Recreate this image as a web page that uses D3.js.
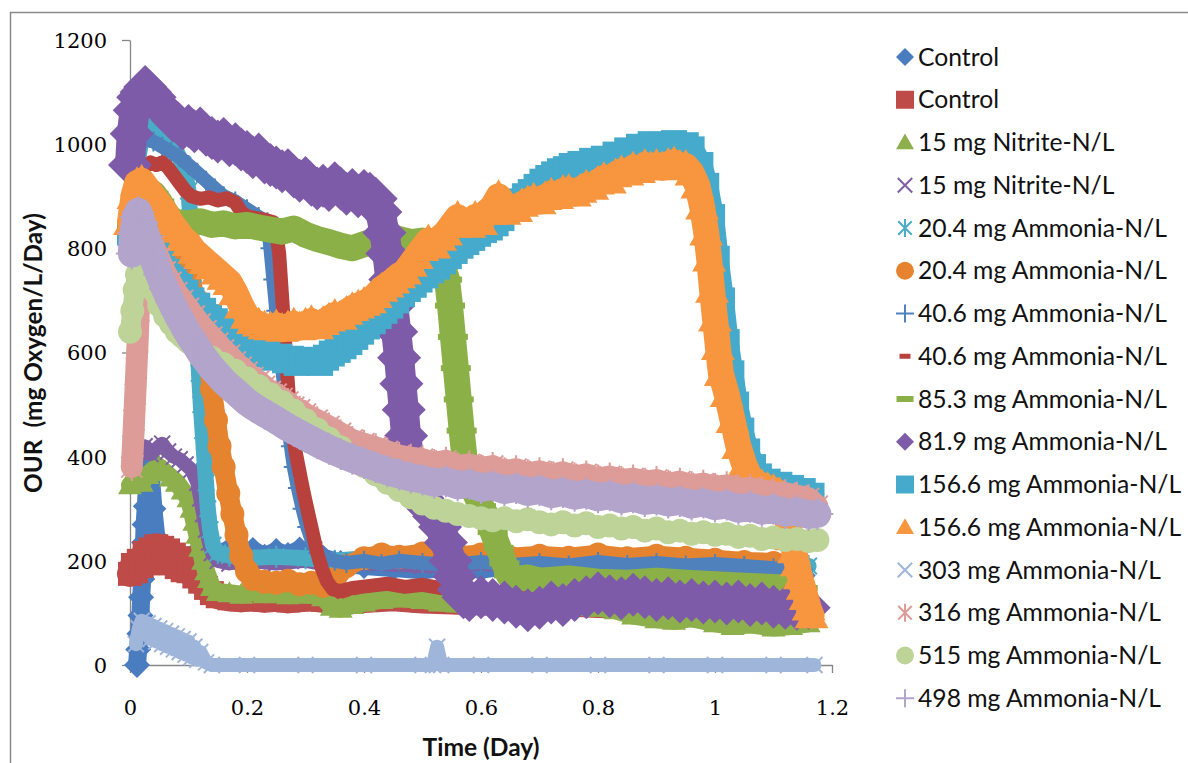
<!DOCTYPE html>
<html>
<head>
<meta charset="utf-8">
<script src="https://cdn.jsdelivr.net/npm/d3@7"></script>
<style>
  body { margin: 0; background: #fff; }
  svg { display: block; }
</style>
</head>
<body>
<svg id="chart" width="1188" height="763"></svg>
<script>
// ---- axis ticks ----
const xTicks = [0, 0.2, 0.4, 0.6, 0.8, 1, 1.2];
const xTickLabels = ["0", "0.2", "0.4", "0.6", "0.8", "1", "1.2"];
const yTicks = [0, 200, 400, 600, 800, 1000, 1200];
const yTickLabels = ["0", "200", "400", "600", "800", "1000", "1200"];

// ---- legend labels (one per series, in drawing order) ----
const seriesNames = [
  "Control", "Control",
  "15 mg Nitrite-N/L", "15 mg Nitrite-N/L",
  "20.4 mg Ammonia-N/L", "20.4 mg Ammonia-N/L",
  "40.6 mg Ammonia-N/L", "40.6 mg Ammonia-N/L",
  "85.3 mg Ammonia-N/L", "81.9 mg Ammonia-N/L",
  "156.6 mg Ammonia-N/L", "156.6 mg Ammonia-N/L",
  "303 mg Ammonia-N/L", "316 mg Ammonia-N/L",
  "515 mg Ammonia-N/L", "498 mg Ammonia-N/L"
];

// ---- OUR readings: [time (day), OUR (mg O2/L/day)] ----
const control1 = [[0.012,0],[0.014,30],[0.016,60],[0.018,95],[0.019,130],[0.021,165],[0.022,200],[0.024,235],[0.025,270],[0.027,305],[0.029,340],[0.031,370],[0.033,395],[0.036,360],[0.04,300],[0.045,245],[0.05,218],[0.07,212],[0.09,208],[0.11,212],[0.13,216],[0.15,214],[0.17,222],[0.19,210],[0.21,221],[0.23,208],[0.25,219],[0.27,211],[0.29,222],[0.31,213],[0.33,206],[0.36,196],[0.4,190],[0.45,186],[0.5,182],[0.55,188],[0.6,183],[0.65,190],[0.7,182],[0.75,188],[0.8,185],[0.85,180],[0.9,186],[0.95,182],[1.0,180],[1.05,178],[1.1,175],[1.15,172]];

const control2 = [[0.0,175],[0.005,192],[0.01,180],[0.015,200],[0.02,190],[0.025,215],[0.03,195],[0.035,222],[0.04,200],[0.045,228],[0.05,205],[0.055,225],[0.06,200],[0.065,220],[0.07,195],[0.075,212],[0.08,188],[0.085,205],[0.09,182],[0.1,180],[0.11,170],[0.12,160],[0.13,148],[0.14,138],[0.15,132],[0.17,128],[0.19,126],[0.21,128],[0.23,125],[0.25,127],[0.27,124],[0.29,126],[0.31,128],[0.33,125],[0.35,120],[0.4,125],[0.45,128],[0.5,124],[0.55,122],[0.6,120],[0.65,118],[0.7,115],[0.75,118],[0.8,115],[0.9,112],[1.0,110],[1.1,108],[1.15,105]];

const nitrite15a = [[0.0,345],[0.01,360],[0.02,350],[0.03,365],[0.04,375],[0.05,380],[0.06,370],[0.07,360],[0.08,350],[0.09,335],[0.1,320],[0.105,300],[0.11,275],[0.115,250],[0.12,225],[0.125,200],[0.13,180],[0.135,165],[0.14,150],[0.15,140],[0.17,138],[0.19,135],[0.21,140],[0.23,136],[0.25,138],[0.27,134],[0.29,137],[0.31,135],[0.33,130],[0.345,112],[0.36,108],[0.38,115],[0.4,120],[0.43,125],[0.46,128],[0.5,125],[0.53,120],[0.56,118],[0.6,115],[0.63,112],[0.66,115],[0.7,110],[0.73,108],[0.76,112],[0.8,110],[0.83,105],[0.86,95],[0.9,88],[0.93,85],[0.96,90],[1.0,80],[1.03,75],[1.06,78],[1.1,72],[1.13,75],[1.16,80]];

const nitrite15b = [[0.005,390],[0.015,410],[0.025,420],[0.035,405],[0.045,415],[0.055,425],[0.065,410],[0.075,400],[0.085,395],[0.095,385],[0.105,375],[0.115,350],[0.12,320],[0.125,290],[0.13,260],[0.135,235],[0.14,215],[0.15,200],[0.17,195],[0.2,200],[0.25,195],[0.3,200],[0.35,190],[0.4,195],[0.5,190],[0.6,195],[0.7,190],[0.8,195],[0.9,190],[1.0,185],[1.1,180],[1.15,178]];

const ammonia20a = [[0.005,880],[0.012,960],[0.02,1010],[0.03,1040],[0.04,1030],[0.05,1045],[0.06,1020],[0.07,1000],[0.08,985],[0.09,960],[0.095,940],[0.1,910],[0.103,860],[0.106,800],[0.109,740],[0.112,680],[0.115,620],[0.118,560],[0.121,500],[0.124,450],[0.127,400],[0.13,350],[0.133,300],[0.137,260],[0.142,230],[0.15,215],[0.17,210],[0.2,205],[0.25,208],[0.3,205],[0.35,200],[0.4,205],[0.5,200],[0.6,205],[0.7,200],[0.8,205],[0.9,200],[1.0,198],[1.1,195],[1.16,190]];

const ammonia20b = [[0.005,900],[0.015,890],[0.025,875],[0.04,855],[0.055,830],[0.07,800],[0.085,770],[0.1,740],[0.115,700],[0.125,650],[0.133,590],[0.14,530],[0.147,470],[0.153,420],[0.16,380],[0.168,330],[0.175,290],[0.182,250],[0.19,210],[0.2,180],[0.21,165],[0.23,160],[0.25,158],[0.27,162],[0.29,155],[0.31,158],[0.33,152],[0.35,165],[0.37,190],[0.4,205],[0.43,212],[0.46,208],[0.5,214],[0.55,208],[0.6,212],[0.65,206],[0.7,210],[0.75,206],[0.8,212],[0.85,205],[0.9,210],[0.95,206],[1.0,202],[1.05,198],[1.1,196],[1.13,192]];

const ammonia40a = [[0.01,990],[0.025,1010],[0.04,1005],[0.055,995],[0.07,985],[0.085,975],[0.1,960],[0.115,945],[0.13,930],[0.145,915],[0.16,900],[0.18,890],[0.2,875],[0.22,860],[0.235,850],[0.24,800],[0.245,740],[0.25,680],[0.255,620],[0.26,570],[0.265,520],[0.27,470],[0.275,420],[0.28,380],[0.287,340],[0.295,300],[0.303,265],[0.312,235],[0.322,215],[0.335,205],[0.35,200],[0.37,196],[0.4,200],[0.43,194],[0.46,200],[0.5,196],[0.55,192],[0.6,198],[0.65,192],[0.7,196],[0.75,191],[0.8,198],[0.85,192],[0.9,196],[0.95,191],[1.0,194],[1.05,190],[1.1,186],[1.15,184]];

const ammonia40b = [[0.005,900],[0.015,940],[0.025,955],[0.035,965],[0.045,960],[0.055,965],[0.065,955],[0.075,940],[0.085,925],[0.095,910],[0.105,900],[0.12,895],[0.135,898],[0.15,892],[0.165,896],[0.18,888],[0.19,870],[0.2,862],[0.215,858],[0.23,855],[0.245,850],[0.25,830],[0.255,790],[0.258,740],[0.261,690],[0.264,640],[0.267,590],[0.27,540],[0.273,490],[0.277,450],[0.283,410],[0.29,370],[0.297,330],[0.305,290],[0.313,250],[0.32,215],[0.328,185],[0.337,160],[0.347,145],[0.36,142],[0.38,148],[0.41,152],[0.44,156],[0.47,150],[0.5,154],[0.53,148],[0.56,145],[0.6,142],[0.65,138],[0.7,120],[0.715,98],[0.73,102],[0.75,130],[0.8,135],[0.85,130],[0.9,128],[0.95,125],[1.0,122],[1.05,120],[1.1,118],[1.15,115]];

const ammonia85 = [[0.04,905],[0.05,890],[0.06,870],[0.07,855],[0.08,850],[0.1,848],[0.12,852],[0.14,845],[0.16,848],[0.18,842],[0.2,845],[0.22,840],[0.24,836],[0.26,832],[0.28,838],[0.3,826],[0.32,818],[0.34,812],[0.36,805],[0.38,800],[0.4,808],[0.42,815],[0.44,812],[0.46,818],[0.48,812],[0.5,815],[0.51,812],[0.52,800],[0.528,785],[0.535,765],[0.542,740],[0.547,690],[0.552,630],[0.557,570],[0.562,510],[0.567,450],[0.572,395],[0.58,360],[0.59,330],[0.6,305],[0.61,285],[0.62,255],[0.63,225],[0.64,195],[0.648,172],[0.66,165],[0.68,168],[0.7,162],[0.75,166],[0.8,160],[0.85,158],[0.9,162],[0.95,158],[1.0,155],[1.05,152],[1.1,150],[1.15,148]];

const ammonia82 = [[0.0,960],[0.003,1020],[0.008,1065],[0.014,1090],[0.02,1100],[0.026,1110],[0.034,1100],[0.042,1090],[0.05,1075],[0.058,1065],[0.066,1055],[0.074,1045],[0.082,1040],[0.09,1030],[0.1,1035],[0.11,1025],[0.12,1030],[0.13,1018],[0.14,1012],[0.15,1005],[0.16,1010],[0.17,998],[0.18,1000],[0.19,990],[0.2,985],[0.21,975],[0.22,980],[0.23,965],[0.24,960],[0.25,955],[0.26,948],[0.27,950],[0.28,938],[0.29,930],[0.3,935],[0.31,922],[0.32,915],[0.33,920],[0.34,912],[0.35,925],[0.36,915],[0.37,905],[0.38,912],[0.39,900],[0.4,910],[0.41,905],[0.42,895],[0.428,870],[0.435,830],[0.44,790],[0.445,740],[0.45,690],[0.455,640],[0.46,590],[0.464,540],[0.468,490],[0.472,440],[0.477,400],[0.483,370],[0.49,345],[0.5,320],[0.51,300],[0.52,285],[0.53,265],[0.54,235],[0.548,200],[0.555,170],[0.562,145],[0.57,130],[0.58,125],[0.6,130],[0.62,125],[0.64,120],[0.66,112],[0.68,105],[0.7,110],[0.72,120],[0.74,115],[0.76,125],[0.78,130],[0.8,138],[0.82,132],[0.84,128],[0.86,135],[0.88,130],[0.9,125],[0.92,128],[0.94,122],[0.96,125],[0.98,120],[1.0,122],[1.02,118],[1.04,122],[1.06,115],[1.08,118],[1.1,112],[1.12,110],[1.14,108],[1.16,110]];

const ammonia156a = [[0.0,830],[0.008,860],[0.016,850],[0.025,830],[0.035,810],[0.045,790],[0.055,770],[0.065,755],[0.075,740],[0.085,728],[0.095,715],[0.105,700],[0.115,690],[0.125,680],[0.135,668],[0.145,660],[0.155,650],[0.165,640],[0.175,632],[0.185,625],[0.195,615],[0.205,610],[0.215,605],[0.225,600],[0.235,596],[0.245,590],[0.255,592],[0.265,585],[0.275,588],[0.285,580],[0.295,585],[0.305,582],[0.315,586],[0.325,580],[0.335,590],[0.345,598],[0.355,605],[0.365,612],[0.375,620],[0.385,630],[0.395,640],[0.405,650],[0.415,660],[0.425,670],[0.435,680],[0.445,690],[0.455,700],[0.465,712],[0.475,722],[0.485,730],[0.495,740],[0.505,748],[0.515,758],[0.525,765],[0.535,775],[0.545,785],[0.555,795],[0.565,805],[0.575,812],[0.585,820],[0.595,828],[0.605,835],[0.615,840],[0.625,848],[0.635,858],[0.645,880],[0.655,885],[0.665,890],[0.675,900],[0.685,908],[0.695,918],[0.705,928],[0.715,935],[0.725,942],[0.735,948],[0.745,952],[0.755,958],[0.77,962],[0.79,968],[0.81,972],[0.83,980],[0.85,988],[0.87,995],[0.89,1000],[0.91,998],[0.93,1002],[0.95,998],[0.96,990],[0.975,960],[0.985,920],[0.995,860],[1.003,780],[1.012,700],[1.02,620],[1.028,560],[1.036,500],[1.045,450],[1.055,410],[1.065,380],[1.075,362],[1.09,352],[1.11,346],[1.13,340],[1.15,334],[1.165,325]];

const ammonia156b = [[0.0,850],[0.006,900],[0.012,925],[0.02,930],[0.03,915],[0.04,900],[0.05,885],[0.06,870],[0.07,850],[0.08,835],[0.09,820],[0.1,810],[0.11,795],[0.12,785],[0.13,775],[0.14,765],[0.15,755],[0.16,745],[0.17,735],[0.18,715],[0.19,690],[0.2,670],[0.21,660],[0.22,655],[0.23,650],[0.24,648],[0.25,652],[0.26,645],[0.27,650],[0.28,655],[0.29,648],[0.3,655],[0.31,660],[0.32,650],[0.33,658],[0.34,665],[0.35,672],[0.36,668],[0.37,678],[0.38,685],[0.39,690],[0.4,695],[0.41,700],[0.42,710],[0.43,722],[0.44,730],[0.45,738],[0.46,748],[0.47,755],[0.48,770],[0.49,785],[0.5,800],[0.51,815],[0.52,805],[0.53,820],[0.54,830],[0.55,845],[0.56,860],[0.57,850],[0.58,845],[0.59,860],[0.6,850],[0.61,870],[0.62,880],[0.63,900],[0.64,870],[0.65,880],[0.66,875],[0.67,885],[0.68,890],[0.69,895],[0.7,890],[0.71,898],[0.72,905],[0.73,900],[0.74,910],[0.75,912],[0.76,905],[0.77,912],[0.78,920],[0.79,918],[0.8,928],[0.81,935],[0.82,930],[0.83,942],[0.84,948],[0.85,945],[0.86,955],[0.87,950],[0.88,960],[0.89,955],[0.9,960],[0.91,955],[0.92,962],[0.93,965],[0.94,958],[0.95,958],[0.96,945],[0.97,920],[0.978,880],[0.985,830],[0.99,780],[0.995,720],[1.0,665],[1.005,610],[1.01,560],[1.02,520],[1.03,470],[1.04,420],[1.05,385],[1.06,360],[1.07,350],[1.08,345],[1.09,340],[1.1,336],[1.11,330],[1.12,300],[1.125,270],[1.13,245],[1.135,220],[1.14,195],[1.145,170],[1.15,150],[1.155,130],[1.16,110],[1.165,95]];

const ammonia303 = [[0.01,40],[0.015,70],[0.02,85],[0.025,60],[0.03,80],[0.035,50],[0.04,75],[0.045,45],[0.05,70],[0.055,40],[0.06,65],[0.065,35],[0.07,60],[0.075,30],[0.08,55],[0.085,25],[0.09,50],[0.095,20],[0.1,45],[0.105,15],[0.11,35],[0.115,10],[0.12,25],[0.13,5],[0.14,0],[0.2,0],[0.3,0],[0.4,0],[0.5,0],[0.518,0],[0.525,35],[0.532,0],[0.6,0],[0.7,0],[0.8,0],[0.9,0],[1.0,0],[1.1,0],[1.17,0]];

const ammonia316 = [[0.003,380],[0.005,420],[0.007,470],[0.009,520],[0.011,570],[0.013,620],[0.015,680],[0.018,760],[0.022,840],[0.03,830],[0.04,805],[0.05,780],[0.06,755],[0.07,735],[0.08,715],[0.09,700],[0.1,685],[0.11,670],[0.12,655],[0.13,642],[0.14,630],[0.15,618],[0.16,605],[0.17,595],[0.18,582],[0.19,572],[0.2,562],[0.21,552],[0.22,545],[0.23,535],[0.24,525],[0.25,520],[0.26,512],[0.27,505],[0.28,495],[0.29,490],[0.3,482],[0.32,470],[0.34,458],[0.36,445],[0.38,432],[0.4,425],[0.42,418],[0.44,410],[0.46,402],[0.48,398],[0.5,395],[0.52,388],[0.54,392],[0.56,382],[0.58,385],[0.6,378],[0.62,382],[0.64,372],[0.66,376],[0.68,368],[0.7,372],[0.72,365],[0.74,370],[0.76,362],[0.78,366],[0.8,358],[0.82,362],[0.84,355],[0.86,358],[0.88,352],[0.9,355],[0.92,348],[0.94,352],[0.96,345],[0.98,348],[1.0,342],[1.02,345],[1.04,338],[1.06,340],[1.08,335],[1.1,332],[1.12,330],[1.14,325],[1.16,320],[1.175,305]];

const ammonia515 = [[0.0,640],[0.004,680],[0.008,720],[0.012,750],[0.016,775],[0.022,790],[0.03,760],[0.04,720],[0.05,690],[0.06,670],[0.07,655],[0.08,640],[0.09,630],[0.1,620],[0.12,605],[0.14,590],[0.16,578],[0.18,565],[0.2,550],[0.22,535],[0.24,520],[0.26,505],[0.28,488],[0.3,470],[0.32,452],[0.34,435],[0.36,418],[0.38,400],[0.4,382],[0.42,366],[0.44,350],[0.46,336],[0.48,322],[0.5,310],[0.52,302],[0.54,296],[0.56,290],[0.58,286],[0.6,282],[0.62,278],[0.64,282],[0.66,276],[0.68,280],[0.7,274],[0.72,270],[0.74,274],[0.76,268],[0.78,272],[0.8,265],[0.82,268],[0.84,262],[0.86,265],[0.88,258],[0.9,262],[0.92,255],[0.94,258],[0.96,252],[0.98,255],[1.0,250],[1.02,252],[1.04,246],[1.06,248],[1.08,242],[1.1,245],[1.12,240],[1.14,242],[1.16,238],[1.175,240]];

const ammonia498 = [[0.003,790],[0.006,830],[0.01,860],[0.014,870],[0.02,850],[0.03,815],[0.04,780],[0.05,750],[0.06,722],[0.07,698],[0.08,675],[0.09,655],[0.1,635],[0.11,618],[0.12,600],[0.13,585],[0.14,570],[0.15,558],[0.16,545],[0.17,535],[0.18,525],[0.19,515],[0.2,505],[0.21,497],[0.22,490],[0.23,483],[0.24,477],[0.25,470],[0.26,463],[0.27,456],[0.28,450],[0.29,444],[0.3,438],[0.32,426],[0.34,415],[0.36,405],[0.38,396],[0.4,388],[0.42,380],[0.44,372],[0.46,366],[0.48,360],[0.5,356],[0.52,350],[0.54,353],[0.56,345],[0.58,348],[0.6,340],[0.62,344],[0.64,336],[0.66,340],[0.68,332],[0.7,336],[0.72,328],[0.74,332],[0.76,325],[0.78,329],[0.8,322],[0.82,326],[0.84,318],[0.86,322],[0.88,315],[0.9,318],[0.92,312],[0.94,315],[0.96,308],[0.98,312],[1.0,305],[1.02,308],[1.04,300],[1.06,304],[1.08,296],[1.1,300],[1.12,292],[1.14,295],[1.16,288],[1.175,290]];

const seriesData = [
  control1, control2, nitrite15a, nitrite15b,
  ammonia20a, ammonia20b, ammonia40a, ammonia40b,
  ammonia85, ammonia82, ammonia156a, ammonia156b,
  ammonia303, ammonia316, ammonia515, ammonia498
];

// ---- per-series look: colour, marker shape, band width and marker size (px) ----
const seriesStyle = [
  { color: "#4A7DC0", marker: "diamond",  band: 18, size: 26 },
  { color: "#BE4B48", marker: "square",   band: 26, size: 24 },
  { color: "#8DB04C", marker: "triangle", band: 18, size: 24 },
  { color: "#7E5FA3", marker: "x",        band: 14, size: 20 },
  { color: "#4BACC6", marker: "star",     band: 16, size: 22 },
  { color: "#E5832F", marker: "circle",   band: 20, size: 24 },
  { color: "#4F81BD", marker: "plus",     band: 14, size: 20 },
  { color: "#B8413E", marker: "dash",     band: 14, size: 20 },
  { color: "#8CB048", marker: "longdash", band: 26, size: 30 },
  { color: "#7E5BA8", marker: "diamond",  band: 30, size: 44 },
  { color: "#45AACB", marker: "square",   band: 24, size: 26 },
  { color: "#F7963E", marker: "triangle", band: 26, size: 34 },
  { color: "#9FB6DA", marker: "x",        band: 14, size: 20 },
  { color: "#DD9C98", marker: "star",     band: 22, size: 28 },
  { color: "#BDD398", marker: "circle",   band: 20, size: 24 },
  { color: "#B2A4CB", marker: "plus",     band: 28, size: 32 }
];

const svg = d3.select("#chart");

// chart area frame
svg.append("rect")
  .attr("x", 10.5).attr("y", 12.5)
  .attr("width", 1200).attr("height", 800)
  .attr("fill", "#fff").attr("stroke", "#8a8a8a").attr("stroke-width", 1.5);

const x = d3.scaleLinear().domain([0, 1.2]).range([130, 832]);
const y = d3.scaleLinear().domain([0, 1200]).range([665, 40]);

const tickFont = "'DejaVu Serif', serif";
const textFont = "Lato, 'Open Sans', sans-serif";

// size a font so that a sample string spans the given width
function fitFontSize(sample, family, weight, width) {
  const probe = svg.append("text")
    .attr("font-family", family).attr("font-weight", weight)
    .attr("font-size", 100).style("white-space", "pre").text(sample);
  const w = probe.node().getComputedTextLength();
  probe.remove();
  return 100 * width / w;
}

// ---- axes ----
const xAxis = d3.axisBottom(x).tickValues(xTicks)
  .tickFormat((d, i) => xTickLabels[i]).tickSize(8).tickSizeOuter(0).tickPadding(27);
const yAxis = d3.axisLeft(y).tickValues(yTicks)
  .tickFormat((d, i) => yTickLabels[i]).tickSize(8).tickSizeOuter(0).tickPadding(15);

const gx = svg.append("g").attr("transform", `translate(0,${y(0)})`).call(xAxis);
const gy = svg.append("g").attr("transform", `translate(${x(0)},0)`).call(yAxis);
[gx, gy].forEach(g => {
  g.select(".domain").attr("stroke", "#868686").attr("stroke-width", 1.3);
  g.selectAll(".tick line").attr("stroke", "#868686").attr("stroke-width", 1.3);
  g.selectAll(".tick text")
    .attr("font-family", tickFont).attr("font-size", 21).attr("fill", "#000");
});
gx.selectAll(".tick text").attr("dy", "0.71em");
gy.selectAll(".tick text").attr("dy", "0.35em");

// ---- markers ----
function markerPath(type, s) {
  const h = s / 2;
  switch (type) {
    case "diamond":  return `M0,${-h}L${h},0L0,${h}L${-h},0Z`;
    case "square":   return `M${-h},${-h}H${h}V${h}H${-h}Z`;
    case "triangle": return `M0,${-h}L${h},${h * 0.75}L${-h},${h * 0.75}Z`;
    case "circle":   return `M${h},0A${h},${h} 0 1,1 ${-h},0A${h},${h} 0 1,1 ${h},0Z`;
    case "x":        return `M${-h * 0.8},${-h * 0.8}L${h * 0.8},${h * 0.8}M${-h * 0.8},${h * 0.8}L${h * 0.8},${-h * 0.8}`;
    case "plus":     return `M${-h},0H${h}M0,${-h}V${h}`;
    case "star":     return `M${-h * 0.75},${-h * 0.75}L${h * 0.75},${h * 0.75}M${-h * 0.75},${h * 0.75}L${h * 0.75},${-h * 0.75}M0,${-h}V${h}`;
    case "dash":     return `M${-h * 0.5},-2.5H${h * 0.5}V2.5H${-h * 0.5}Z`;
    case "longdash": return `M${-h},-3H${h}V3H${-h}Z`;
  }
}
const lineMarkers = new Set(["x", "plus", "star"]);

function styleMarker(sel, st) {
  if (lineMarkers.has(st.marker)) {
    sel.attr("fill", "none").attr("stroke", st.color).attr("stroke-width", 2);
  } else {
    sel.attr("fill", st.color).attr("stroke", "none");
  }
}

// ---- series: dense readings drawn as a band with a marker on every reading ----
const line = d3.line().x(d => x(d[0])).y(d => y(d[1]));
const plot = svg.append("g");

seriesData.forEach((data, i) => {
  const st = seriesStyle[i];
  const g = plot.append("g");
  g.append("path")
    .attr("d", line(data))
    .attr("fill", "none")
    .attr("stroke", st.color)
    .attr("stroke-width", st.band)
    .attr("stroke-linejoin", "round")
    .attr("stroke-linecap", "round");
  g.selectAll("path.mk").data(data).join("path")
    .attr("class", "mk")
    .attr("transform", d => `translate(${x(d[0])},${y(d[1])})`)
    .attr("d", markerPath(st.marker, st.size))
    .call(styleMarker, st);
});

// ---- legend ----
const legendFont = fitFontSize("20.4 mg Ammonia-N/L", textFont, 400, 249);
const legendTop = 57, legendStep = 42.75, legendMarkX = 905, legendTextX = 918;
const legend = svg.append("g");
seriesNames.forEach((name, i) => {
  const st = seriesStyle[i];
  const cy = legendTop + i * legendStep;
  let size = 18;
  if (st.marker === "dash") size = 22;
  if (st.marker === "longdash") size = 17;
  legend.append("path")
    .attr("transform", `translate(${legendMarkX},${cy})`)
    .attr("d", markerPath(st.marker, size))
    .call(styleMarker, st);
  legend.append("text")
    .attr("x", legendTextX).attr("y", cy)
    .attr("dy", "0.35em")
    .attr("font-family", textFont).attr("font-size", legendFont)
    .attr("fill", "#111")
    .text(name);
});

// ---- axis titles ----
const xTitle = "Time (Day)";
const yTitle = "OUR  (mg Oxygen/L/Day)";
svg.append("text")
  .attr("x", 481).attr("y", 756)
  .attr("text-anchor", "middle")
  .attr("font-family", textFont).attr("font-weight", 700)
  .attr("font-size", fitFontSize(xTitle, textFont, 700, 117))
  .attr("fill", "#111")
  .text(xTitle);
svg.append("text")
  .attr("transform", "translate(42,353) rotate(-90)")
  .attr("text-anchor", "middle")
  .style("white-space", "pre")
  .attr("font-family", textFont).attr("font-weight", 700)
  .attr("font-size", fitFontSize(yTitle, textFont, 700, 280))
  .attr("fill", "#111")
  .text(yTitle);
</script>
</body>
</html>
